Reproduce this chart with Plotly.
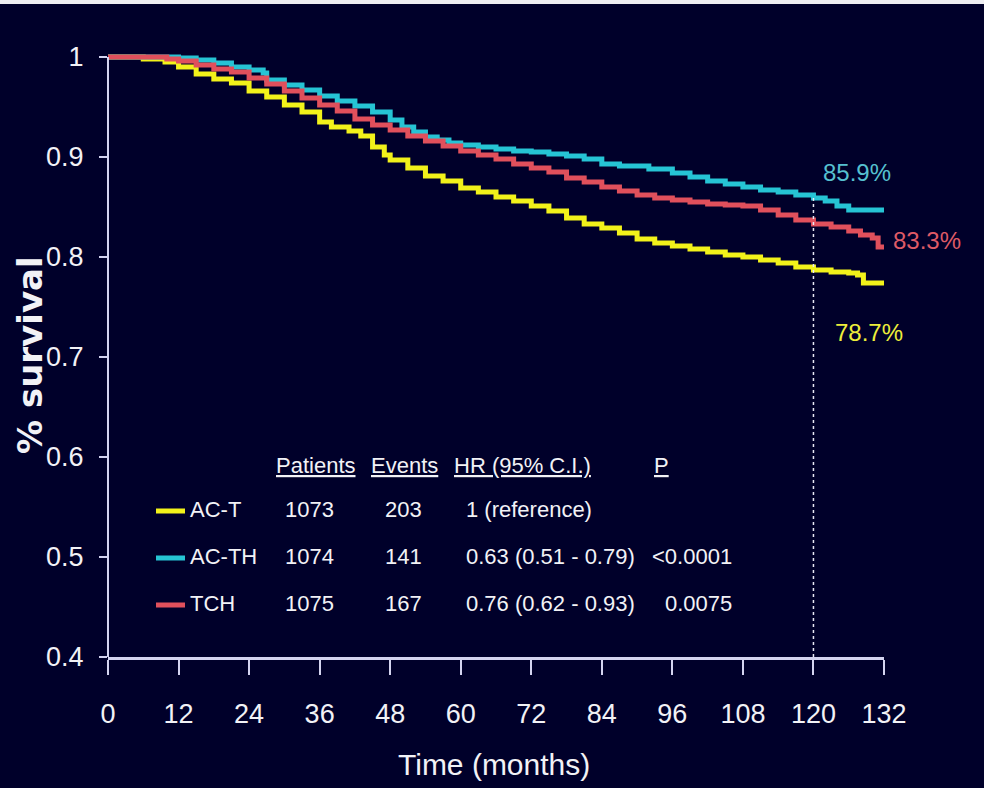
import plotly.graph_objects as go

# ---------------- data ----------------
months_act = [0, 6, 9.7, 12, 15, 18, 21, 24, 27, 30, 33, 36, 38, 41, 43, 45, 47, 48, 51, 54, 57, 60,
              63, 66, 69, 72, 75, 78, 81, 84, 87, 90, 93, 96, 99, 102, 105, 108, 111, 114, 117, 120,
              123, 126, 127.5, 128.5, 132]
surv_act = [1.0, 0.998, 0.995, 0.99, 0.983, 0.978, 0.974, 0.966, 0.96, 0.952, 0.945, 0.935, 0.930,
            0.926, 0.921, 0.910, 0.902, 0.897, 0.889, 0.881, 0.876, 0.869, 0.865, 0.860, 0.856, 0.851,
            0.846, 0.839, 0.833, 0.829, 0.824, 0.818, 0.814, 0.811, 0.808, 0.805, 0.802, 0.800, 0.797,
            0.794, 0.790, 0.787, 0.785, 0.784, 0.782, 0.774, 0.773]

months_acth = [0, 12, 15, 18, 21, 24, 26.4, 27, 30, 33, 36, 39, 42, 45, 48, 50, 52, 54, 56, 58, 60,
               63, 66, 69, 72, 75, 78, 81, 84, 87, 90, 92, 96, 99, 102, 105, 108, 111, 114, 117, 120,
               122, 124, 126, 132]
surv_acth = [1.0, 0.999, 0.997, 0.994, 0.99, 0.987, 0.984, 0.977, 0.972, 0.967, 0.961, 0.956, 0.951,
             0.945, 0.937, 0.930, 0.925, 0.920, 0.917, 0.914, 0.912, 0.910, 0.908, 0.906, 0.905, 0.903,
             0.901, 0.898, 0.893, 0.891, 0.891, 0.888, 0.884, 0.880, 0.876, 0.873, 0.870, 0.867, 0.865,
             0.862, 0.859, 0.856, 0.851, 0.847, 0.845]

months_tch = [0, 10, 12, 15, 18, 21, 24, 27, 30, 33, 36, 39, 42, 45, 48, 51, 54, 57, 60, 63, 66, 69,
              72, 75, 78, 81, 84, 87, 90, 93, 96, 99, 102, 105, 108, 111, 114, 117, 120, 123, 126,
              128, 130, 131, 132]
surv_tch = [1.0, 0.998, 0.996, 0.992, 0.988, 0.985, 0.979, 0.973, 0.966, 0.959, 0.952, 0.946, 0.938,
            0.932, 0.927, 0.921, 0.916, 0.911, 0.906, 0.902, 0.898, 0.893, 0.889, 0.885, 0.879, 0.875,
            0.870, 0.866, 0.862, 0.859, 0.857, 0.855, 0.853, 0.852, 0.851, 0.847, 0.842, 0.837, 0.833,
            0.830, 0.826, 0.822, 0.819, 0.810, 0.809]

arms = ["AC-T", "AC-TH", "TCH"]
patients = ["1073", "1074", "1075"]
events = ["203", "141", "167"]
hazard_ratio = ["1 (reference)", "0.63 (0.51 - 0.79)", "0.76 (0.62 - 0.93)"]
p_values = ["", "<0.0001", "0.0075"]
table_headers = ["Patients", "Events", "HR (95% C.I.)", "P"]

landmark_month = 120
landmark_pct = ["78.7%", "85.9%", "83.3%"]
landmark_surv_top = 0.859

x_ticks = [0, 12, 24, 36, 48, 60, 72, 84, 96, 108, 120, 132]
y_ticks = [0.4, 0.5, 0.6, 0.7, 0.8, 0.9, 1.0]
y_tick_text = ["0.4", "0.5", "0.6", "0.7", "0.8", "0.9", "1"]

# ---------------- styling ----------------
BG = "#00002a"
AXIS = "#d4d4f0"
TXT = "#f2f2f6"
colors = ["#f2f21a", "#26c4d4", "#e0505c"]
label_colors = ["#eeee3a", "#56c0d0", "#de5a66"]
NARROW = "Liberation Sans, Arial, sans-serif"

W, H = 984, 788
L, R, B = 108, 884, 657
PT = 49  # top of plot area in px (value 1.0 sits at 57)


def pxx(xp):
    return (xp - L) / (R - L)


def pxy(yp):
    return (B - yp) / (B - PT)


fig = go.Figure()
series = [(months_act, surv_act), (months_acth, surv_acth), (months_tch, surv_tch)]
for name, (mx, sy), c in zip(arms, series, colors):
    fig.add_trace(go.Scatter(x=mx, y=sy, mode="lines", name=name,
                             line=dict(color=c, width=5, shape="hv"), showlegend=False))

shapes = []
# y axis line
shapes.append(dict(type="line", xref="paper", yref="y", x0=0, x1=0, y0=0.4, y1=1.0,
                   line=dict(color=AXIS, width=2)))
# landmark dashed line
shapes.append(dict(type="line", xref="x", yref="y", x0=landmark_month, x1=landmark_month,
                   y0=0.4, y1=landmark_surv_top, line=dict(color="#e8e8f4", width=1.5, dash="dot")))
# top white strip
shapes.append(dict(type="rect", xref="paper", yref="paper", x0=pxx(0), x1=pxx(W),
                   y0=pxy(4), y1=pxy(0), fillcolor="#eeeef2", line=dict(width=0), layer="above"))

annotations = []
# axis titles
annotations.append(dict(text="Time (months)", xref="paper", yref="paper", x=pxx(494), y=pxy(764),
                        xanchor="center", yanchor="middle", showarrow=False,
                        font=dict(family=NARROW, size=30, color=TXT)))
annotations.append(dict(text="% survival", xref="paper", yref="paper", x=pxx(30), y=pxy(355),
                        xanchor="center", yanchor="middle", showarrow=False, textangle=-90,
                        font=dict(family="DejaVu Sans, Verdana, sans-serif", size=34, color=TXT,
                                  weight="bold")))

# landmark percentage labels
pct_pos = [(869, 332), (857, 172), (927, 240)]
for t, (xp, yp), c in zip(landmark_pct, pct_pos, label_colors):
    annotations.append(dict(text=t, xref="paper", yref="paper", x=pxx(xp), y=pxy(yp),
                            xanchor="center", yanchor="middle", showarrow=False,
                            font=dict(family=NARROW, size=24, color=c)))

# table
TF = dict(family=NARROW, size=22, color=TXT)
head_x = [274, 369, 452, 652]
for h, xp in zip(table_headers, head_x):
    annotations.append(dict(text="<u>" + h + "</u>", xref="paper", yref="paper", x=pxx(xp), y=pxy(465),
                            xanchor="left", yanchor="middle", showarrow=False, font=TF))
row_y = [509, 556, 603]
for i in range(3):
    yp = row_y[i]
    shapes.append(dict(type="line", xref="paper", yref="paper", x0=pxx(156), x1=pxx(185),
                       y0=pxy(yp + 2), y1=pxy(yp + 2), line=dict(color=colors[i], width=5)))
    cells = [(arms[i], 188, "left"), (patients[i], 309, "center"), (events[i], 424, "right"),
             (hazard_ratio[i], 464, "left"), (p_values[i], 734, "right")]
    for t, xp, anc in cells:
        if not t:
            continue
        annotations.append(dict(text=t, xref="paper", yref="paper", x=pxx(xp), y=pxy(yp),
                                xanchor=anc, yanchor="middle", showarrow=False, font=TF))

fig.update_layout(
    width=W, height=H,
    margin=dict(l=L, r=W - R, t=PT, b=H - B, pad=0),
    paper_bgcolor=BG, plot_bgcolor=BG,
    shapes=shapes, annotations=annotations,
    xaxis=dict(range=[0, 132], tickvals=x_ticks, showgrid=False, zeroline=False,
               showline=True, linecolor=AXIS, linewidth=3,
               ticks="outside", ticklen=15, tickwidth=2, tickcolor=AXIS,
               ticklabelstandoff=16,
               tickfont=dict(family=NARROW, size=27, color=TXT)),
    yaxis=dict(range=[0.4, 1.008], tickvals=y_ticks, ticktext=y_tick_text, showgrid=False,
               zeroline=False, showline=False,
               ticks="outside", ticklen=8, tickwidth=2, tickcolor=AXIS,
               ticklabelstandoff=10,
               tickfont=dict(family=NARROW, size=27, color=TXT)),
)

fig.write_html("out.html")
